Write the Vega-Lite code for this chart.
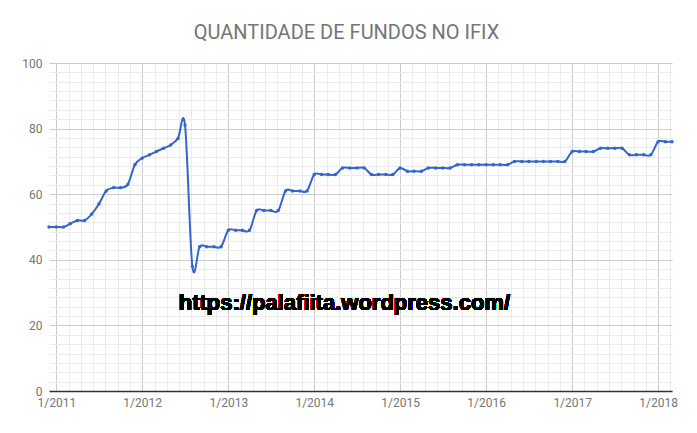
{
  "$schema": "https://vega.github.io/schema/vega-lite/v6.json",
  "autosize": "none",
  "width": 623,
  "height": 328,
  "padding": {"left": 49, "top": 63, "right": 25, "bottom": 42},
  "background": "white",
  "config": {"view": {"stroke": null}},
  "title": {
    "text": "QUANTIDADE DE FUNDOS NO IFIX",
    "font": "Roboto",
    "fontSize": 20,
    "fontWeight": "normal",
    "color": "#757575",
    "anchor": "middle",
    "dx": -14,
    "offset": 14
  },
  "data": {
    "values": [
      {"date": "2010-12-01", "fundos": 50},
      {"date": "2011-01-01", "fundos": 50},
      {"date": "2011-02-01", "fundos": 50},
      {"date": "2011-03-01", "fundos": 51},
      {"date": "2011-04-01", "fundos": 52},
      {"date": "2011-05-01", "fundos": 52},
      {"date": "2011-06-01", "fundos": 54},
      {"date": "2011-07-01", "fundos": 57},
      {"date": "2011-08-01", "fundos": 61},
      {"date": "2011-09-01", "fundos": 62},
      {"date": "2011-10-01", "fundos": 62},
      {"date": "2011-11-01", "fundos": 63},
      {"date": "2011-12-01", "fundos": 69},
      {"date": "2012-01-01", "fundos": 71},
      {"date": "2012-02-01", "fundos": 72},
      {"date": "2012-03-01", "fundos": 73},
      {"date": "2012-04-01", "fundos": 74},
      {"date": "2012-05-01", "fundos": 75},
      {"date": "2012-06-01", "fundos": 77},
      {"date": "2012-07-01", "fundos": 81},
      {"date": "2012-08-01", "fundos": 38},
      {"date": "2012-09-01", "fundos": 44},
      {"date": "2012-10-01", "fundos": 44},
      {"date": "2012-11-01", "fundos": 44},
      {"date": "2012-12-01", "fundos": 44},
      {"date": "2013-01-01", "fundos": 49},
      {"date": "2013-02-01", "fundos": 49},
      {"date": "2013-03-01", "fundos": 49},
      {"date": "2013-04-01", "fundos": 49},
      {"date": "2013-05-01", "fundos": 55},
      {"date": "2013-06-01", "fundos": 55},
      {"date": "2013-07-01", "fundos": 55},
      {"date": "2013-08-01", "fundos": 55},
      {"date": "2013-09-01", "fundos": 61},
      {"date": "2013-10-01", "fundos": 61},
      {"date": "2013-11-01", "fundos": 61},
      {"date": "2013-12-01", "fundos": 61},
      {"date": "2014-01-01", "fundos": 66},
      {"date": "2014-02-01", "fundos": 66},
      {"date": "2014-03-01", "fundos": 66},
      {"date": "2014-04-01", "fundos": 66},
      {"date": "2014-05-01", "fundos": 68},
      {"date": "2014-06-01", "fundos": 68},
      {"date": "2014-07-01", "fundos": 68},
      {"date": "2014-08-01", "fundos": 68},
      {"date": "2014-09-01", "fundos": 66},
      {"date": "2014-10-01", "fundos": 66},
      {"date": "2014-11-01", "fundos": 66},
      {"date": "2014-12-01", "fundos": 66},
      {"date": "2015-01-01", "fundos": 68},
      {"date": "2015-02-01", "fundos": 67},
      {"date": "2015-03-01", "fundos": 67},
      {"date": "2015-04-01", "fundos": 67},
      {"date": "2015-05-01", "fundos": 68},
      {"date": "2015-06-01", "fundos": 68},
      {"date": "2015-07-01", "fundos": 68},
      {"date": "2015-08-01", "fundos": 68},
      {"date": "2015-09-01", "fundos": 69},
      {"date": "2015-10-01", "fundos": 69},
      {"date": "2015-11-01", "fundos": 69},
      {"date": "2015-12-01", "fundos": 69},
      {"date": "2016-01-01", "fundos": 69},
      {"date": "2016-02-01", "fundos": 69},
      {"date": "2016-03-01", "fundos": 69},
      {"date": "2016-04-01", "fundos": 69},
      {"date": "2016-05-01", "fundos": 70},
      {"date": "2016-06-01", "fundos": 70},
      {"date": "2016-07-01", "fundos": 70},
      {"date": "2016-08-01", "fundos": 70},
      {"date": "2016-09-01", "fundos": 70},
      {"date": "2016-10-01", "fundos": 70},
      {"date": "2016-11-01", "fundos": 70},
      {"date": "2016-12-01", "fundos": 70},
      {"date": "2017-01-01", "fundos": 73},
      {"date": "2017-02-01", "fundos": 73},
      {"date": "2017-03-01", "fundos": 73},
      {"date": "2017-04-01", "fundos": 73},
      {"date": "2017-05-01", "fundos": 74},
      {"date": "2017-06-01", "fundos": 74},
      {"date": "2017-07-01", "fundos": 74},
      {"date": "2017-08-01", "fundos": 74},
      {"date": "2017-09-01", "fundos": 72},
      {"date": "2017-10-01", "fundos": 72},
      {"date": "2017-11-01", "fundos": 72},
      {"date": "2017-12-01", "fundos": 72},
      {"date": "2018-01-01", "fundos": 76},
      {"date": "2018-02-01", "fundos": 76},
      {"date": "2018-03-01", "fundos": 76}
    ]
  },
  "layer": [
    {
      "mark": {
        "type": "line",
        "interpolate": "cardinal",
        "color": "#3366cc",
        "strokeWidth": 2,
        "point": {"filled": true, "color": "#3366cc", "size": 12}
      },
      "encoding": {
        "x": {
          "field": "date",
          "type": "temporal",
          "scale": {"type": "utc", "domain": [1291161600000, 1519862400000]},
          "axis": {
            "title": null,
            "tickCount": 500,
            "values": [1293840000000, 1298345142857, 1302850285714, 1307355428571, 1311860571429, 1316365714286, 1320870857143,
                       1325376000000, 1329893485714, 1334410971429, 1338928457143, 1343445942857, 1347963428571, 1352480914286,
                       1356998400000, 1361503542857, 1366008685714, 1370513828571, 1375018971429, 1379524114286, 1384029257143,
                       1388534400000, 1393039542857, 1397544685714, 1402049828571, 1406554971429, 1411060114286, 1415565257143,
                       1420070400000, 1424575542857, 1429080685714, 1433585828571, 1438090971429, 1442596114286, 1447101257143,
                       1451606400000, 1456123885714, 1460641371429, 1465158857143, 1469676342857, 1474193828571, 1478711314286,
                       1483228800000, 1487733942857, 1492239085714, 1496744228571, 1501249371429, 1505754514286, 1510259657143,
                       1514764800000, 1519269942857],
            "labelExpr": "utcmonth(datum.value) == 0 && utcdate(datum.value) == 1 ? utcFormat(datum.value, '%-m/%Y') : ''",
            "labelOverlap": false,
            "labelFlush": false,
            "labelBound": false,
            "labelFont": "Roboto",
            "labelFontSize": 12,
            "labelColor": "#757575",
            "labelPadding": 6,
            "ticks": false,
            "domain": true,
            "domainColor": "#333333",
            "domainWidth": 1.5,
            "grid": true,
            "gridColor": {"condition": {"test": "utcmonth(datum.value) == 0 && utcdate(datum.value) == 1", "value": "#cccccc"}, "value": "#ebebeb"},
            "gridWidth": 1
          }
        },
        "y": {
          "field": "fundos",
          "type": "quantitative",
          "scale": {"domain": [0, 100], "nice": false, "zero": true},
          "axis": {
            "title": null,
            "tickCount": 500,
            "values": [0, 2.857142857, 5.714285714, 8.571428571, 11.42857143, 14.28571429, 17.14285714,
                       20, 22.85714286, 25.71428571, 28.57142857, 31.42857143, 34.28571429, 37.14285714,
                       40, 42.85714286, 45.71428571, 48.57142857, 51.42857143, 54.28571429, 57.14285714,
                       60, 62.85714286, 65.71428571, 68.57142857, 71.42857143, 74.28571429, 77.14285714,
                       80, 82.85714286, 85.71428571, 88.57142857, 91.42857143, 94.28571429, 97.14285714, 100],
            "labelExpr": "datum.value % 20 == 0 ? format(datum.value, 'd') : ''",
            "labelOverlap": false,
            "labelFlush": false,
            "labelBound": false,
            "labelFont": "Roboto",
            "labelFontSize": 12,
            "labelColor": "#757575",
            "labelPadding": 7,
            "ticks": false,
            "domain": false,
            "grid": true,
            "gridColor": {"condition": {"test": "datum.value % 20 == 0", "value": "#cccccc"}, "value": "#ebebeb"},
            "gridWidth": 1
          }
        }
      }
    },
    {
      "mark": {
        "type": "text",
        "text": "https://palafiita.wordpress.com/",
        "font": "Liberation Sans",
        "fontWeight": "bold",
        "fontSize": 22,
        "color": "#000000",
        "align": "center",
        "baseline": "alphabetic"
      },
      "encoding": {
        "x": {"datum": {"year": 2014, "month": 5, "date": 9, "utc": true}, "type": "temporal"},
        "y": {"datum": 24.7, "type": "quantitative"}
      }
    }
  ]
}
